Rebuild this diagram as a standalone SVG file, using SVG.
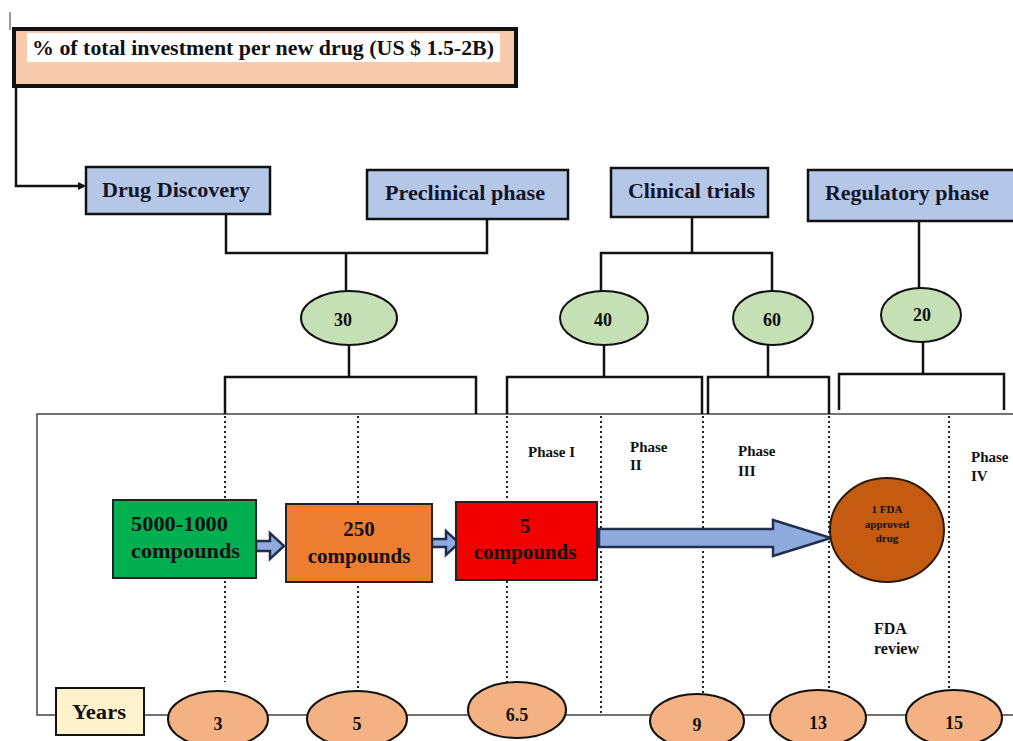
<svg xmlns="http://www.w3.org/2000/svg" width="1013" height="741" viewBox="0 0 1013 741">
<style>
text{font-family:"Liberation Serif","Times New Roman",serif;font-weight:bold;fill:#111}
.hdr{fill:#b4c7e7;stroke:#111;stroke-width:2.5}
.hdrt{font-size:21px;fill:#141428}
.pct{fill:#c5e0b4;stroke:#111;stroke-width:2}
.pctt{font-size:18px;text-anchor:middle}
.yr{fill:#f4b183;stroke:#111;stroke-width:2}
.yrt{font-size:18px;text-anchor:middle}
.conn{fill:none;stroke:#111;stroke-width:2.5}
.dot{fill:none;stroke:#222;stroke-width:2;stroke-dasharray:2 3}
.arr{fill:#8faadc;stroke:#1f2f4f;stroke-width:2.5;stroke-linejoin:miter}
.ph{font-size:15px}
.box{stroke:#222;stroke-width:2}
.bt{font-size:21px}
</style>
<defs>
<marker id="ah" markerWidth="8" markerHeight="8" refX="6" refY="4" orient="auto" markerUnits="userSpaceOnUse">
<path d="M0,0 L8,4 L0,8 z" fill="#111"/>
</marker>
</defs>
<rect width="1013" height="741" fill="#fff"/>
<line x1="10" y1="12" x2="10" y2="30" stroke="#333" stroke-width="1"/>

<g id="investment">
<rect x="14" y="29" width="502" height="57" fill="#f8cbad" stroke="#111" stroke-width="4"/>
<rect x="27" y="33" width="473" height="29" fill="#fff"/>
<text x="32" y="55" font-size="20" textLength="462" lengthAdjust="spacingAndGlyphs">% of total investment per new drug (US $ 1.5-2B)</text>
</g>

<g id="panel" fill="none" stroke="#444" stroke-width="1.5">
<path d="M1013,414 L37,414 L37,715 L1013,715"/>
</g>

<g id="connectors">
<path class="conn" d="M16,86 L16,186 L84,186" stroke-width="3.5" marker-end="url(#ah)"/>
<path class="conn" d="M226,214 L226,253 L487,253 L487,219 M346,253 L346,291"/>
<path class="conn" d="M349,345 L349,377 M225,414 L225,377 L476,377 L476,414"/>
<path class="conn" d="M692,217 L692,253 M601,291 L601,253 L772,253 L772,291"/>
<path class="conn" d="M604,345 L604,377 M507,414 L507,377 L702,377 L702,414"/>
<path class="conn" d="M768,345 L768,377 M708,414 L708,377 L829,377 L829,414"/>
<path class="conn" d="M919,221 L919,288 M923,342 L923,374 M839,410 L839,374 L1004,374 L1004,410"/>
<path class="dot" d="M225,416 V682 M358,416 V692 M507,416 V690 M601,416 V715 M703,416 V700 M829,416 V688 M949,416 V690"/>
<path class="arr" d="M256,541 H270 V533 L284,546 L270,559 V551 H256 Z" stroke-width="2"/>
<path class="arr" d="M432,539 H446 V531 L459,543 L446,555 V547 H432 Z" stroke-width="2"/>
<path class="arr" d="M599,529 H773 V520 L831,538 L773,556 V547 H599 Z"/>
</g>

<g id="drug-discovery">
<rect class="hdr" x="86" y="167" width="184" height="47"/>
<text class="hdrt" x="102" y="197" textLength="148" lengthAdjust="spacingAndGlyphs">Drug Discovery</text>
</g>
<g id="preclinical">
<rect class="hdr" x="367" y="170" width="201" height="49"/>
<text class="hdrt" x="385" y="200" textLength="160" lengthAdjust="spacingAndGlyphs">Preclinical phase</text>
</g>
<g id="clinical">
<rect class="hdr" x="611" y="168" width="157" height="49"/>
<text class="hdrt" x="628" y="198" textLength="127" lengthAdjust="spacingAndGlyphs">Clinical trials</text>
</g>
<g id="regulatory">
<rect class="hdr" x="808" y="170" width="210" height="51"/>
<text class="hdrt" x="825" y="200" textLength="164" lengthAdjust="spacingAndGlyphs">Regulatory phase</text>
</g>

<g id="pct30"><ellipse class="pct" cx="349" cy="318" rx="48" ry="27"/><text class="pctt" x="343" y="326">30</text></g>
<g id="pct40"><ellipse class="pct" cx="604" cy="318" rx="44" ry="27"/><text class="pctt" x="603" y="326">40</text></g>
<g id="pct60"><ellipse class="pct" cx="773" cy="318" rx="40" ry="27"/><text class="pctt" x="772" y="326">60</text></g>
<g id="pct20"><ellipse class="pct" cx="921" cy="315" rx="40" ry="27"/><text class="pctt" x="922" y="321">20</text></g>

<g id="compounds-5000">
<rect class="box" x="113" y="500" width="143" height="78" fill="#00b050"/>
<text class="bt" x="131" y="531" fill="#0d1f0d" textLength="97" lengthAdjust="spacingAndGlyphs">5000-1000</text>
<text class="bt" x="131" y="558" fill="#0d1f0d" textLength="109" lengthAdjust="spacingAndGlyphs">compounds</text>
</g>
<g id="compounds-250">
<rect class="box" x="286" y="504" width="146" height="78" fill="#ed7d31"/>
<text class="bt" x="359" y="536" text-anchor="middle" fill="#2a1405">250</text>
<text class="bt" x="359" y="563" text-anchor="middle" fill="#2a1405">compounds</text>
</g>
<g id="compounds-5">
<rect class="box" x="456" y="502" width="141" height="78" fill="#f20000"/>
<text class="bt" x="525" y="533" text-anchor="middle" fill="#5a0000">5</text>
<text class="bt" x="525" y="559" text-anchor="middle" fill="#5a0000">compounds</text>
</g>

<g id="fda-drug">
<ellipse cx="887" cy="530" rx="57" ry="52" fill="#c55a11" stroke="#2b1a0a" stroke-width="2"/>
<text x="887" y="513" font-size="11" text-anchor="middle" fill="#2a1005">1 FDA</text>
<text x="887" y="528" font-size="11" text-anchor="middle" fill="#2a1005">approved</text>
<text x="887" y="542" font-size="11" text-anchor="middle" fill="#2a1005">drug</text>
</g>

<g id="phase-labels">
<text class="ph" x="528" y="457">Phase I</text>
<text class="ph" x="630" y="452">Phase</text>
<text class="ph" x="630" y="470">II</text>
<text class="ph" x="738" y="456">Phase</text>
<text class="ph" x="738" y="476">III</text>
<text class="ph" x="971" y="462">Phase</text>
<text class="ph" x="971" y="481">IV</text>
<text x="874" y="634" font-size="16">FDA</text>
<text x="874" y="654" font-size="16">review</text>
</g>

<g id="years">
<rect x="56" y="688" width="88" height="47" fill="#fff2cc" stroke="#111" stroke-width="2"/>
<text x="72" y="719" font-size="20" textLength="54" lengthAdjust="spacingAndGlyphs">Years</text>
</g>
<g id="y3"><ellipse class="yr" cx="218" cy="719" rx="50" ry="28"/><text class="yrt" x="218" y="730">3</text></g>
<g id="y5"><ellipse class="yr" cx="357" cy="719" rx="50" ry="28"/><text class="yrt" x="357" y="730">5</text></g>
<g id="y65"><ellipse class="yr" cx="517" cy="710" rx="49" ry="28"/><text class="yrt" x="517" y="721">6.5</text></g>
<g id="y9"><ellipse class="yr" cx="697" cy="721" rx="47" ry="27"/><text class="yrt" x="697" y="731">9</text></g>
<g id="y13"><ellipse class="yr" cx="818" cy="718" rx="48" ry="28"/><text class="yrt" x="818" y="729">13</text></g>
<g id="y15"><ellipse class="yr" cx="954" cy="718" rx="48" ry="28"/><text class="yrt" x="954" y="729">15</text></g>
</svg>
